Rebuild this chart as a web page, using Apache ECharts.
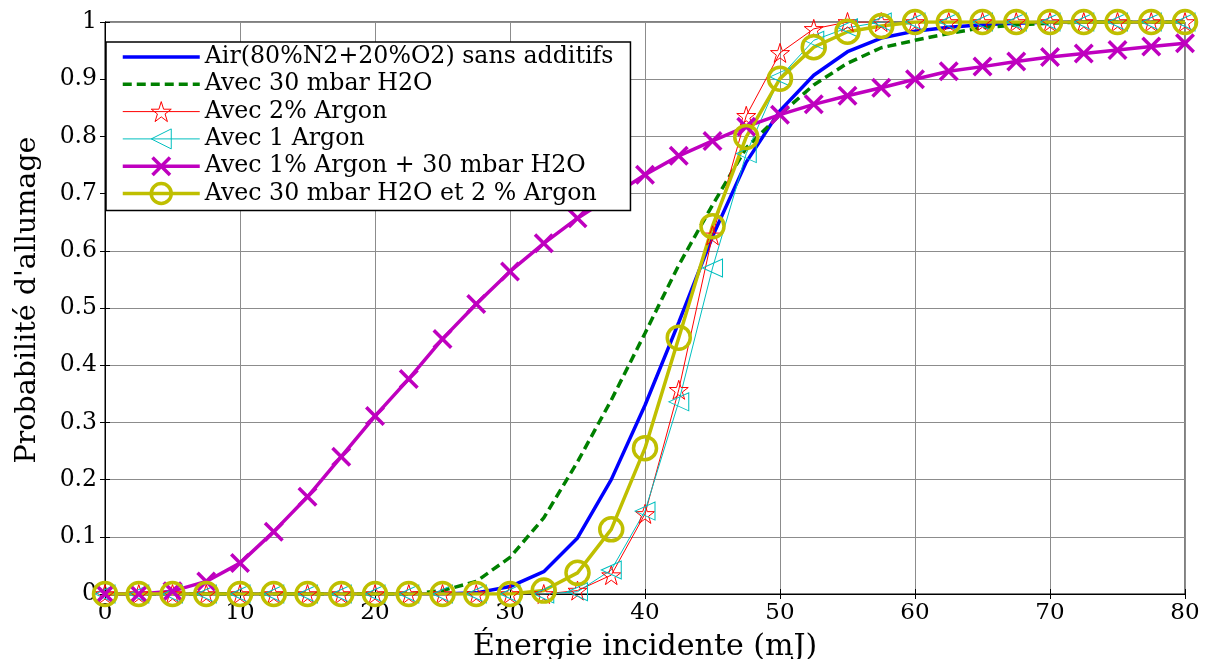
<!DOCTYPE html>
<html>
<head>
<meta charset="utf-8">
<script src="https://cdn.jsdelivr.net/npm/echarts@6/dist/echarts.min.js"></script>
<style>html,body{margin:0;padding:0;background:#fff;}#c{width:1205px;height:659px;}</style>
</head>
<body>
<div id="c"></div>
<script>
const energy = [0,2.5,5,7.5,10,12.5,15,17.5,20,22.5,25,27.5,30,32.5,35,37.5,40,42.5,45,47.5,50,52.5,55,57.5,60,62.5,65,67.5,70,72.5,75,77.5,80];
const air =      [0,0,0,0,0,0,0,0,0,0,0,0.002,0.013,0.039,0.098,0.2,0.33,0.475,0.625,0.755,0.845,0.907,0.948,0.972,0.984,0.991,0.995,0.998,1,1,1,1,1];
const h2o =      [0,0,0,0,0,0,0,0,0,0,0.006,0.022,0.064,0.133,0.231,0.339,0.456,0.575,0.68,0.78,0.838,0.89,0.928,0.955,0.968,0.98,0.99,0.995,0.998,1,1,1,1];
const argon2 =   [0,0,0,0,0,0,0,0,0,0,0,0,0,0,0.006,0.033,0.14,0.357,0.627,0.836,0.946,0.988,1,1,1,1,1,1,1,1,1,1,1];
const argon1 =   [0,0,0,0,0,0,0,0,0,0,0,0,0,0,0.004,0.042,0.145,0.336,0.57,0.77,0.904,0.968,0.99,1,1,1,1,1,1,1,1,1,1];
const argonH2o = [0,0,0.005,0.022,0.054,0.109,0.17,0.24,0.311,0.376,0.446,0.507,0.564,0.613,0.657,0.695,0.733,0.766,0.792,0.817,0.838,0.856,0.871,0.885,0.9,0.914,0.922,0.931,0.939,0.945,0.951,0.957,0.963];
const h2oArgon = [0,0,0,0,0,0,0,0,0,0,0,0,0,0.006,0.037,0.113,0.255,0.448,0.643,0.799,0.901,0.956,0.983,0.993,1,1,1,1,1,1,1,1,1];
const names = ['Air(80%N2+20%O2) sans additifs','Avec 30 mbar H2O','Avec 2% Argon','Avec 1 Argon','Avec 1% Argon + 30 mbar H2O','Avec 30 mbar H2O et 2 % Argon'];
const xTicks = [0,10,20,30,40,50,60,70,80];
const yTicks = [0,0.1,0.2,0.3,0.4,0.5,0.6,0.7,0.8,0.9,1];

const pair = arr => energy.map((x,i)=>[x,arr[i]]);
const FONT = 'DejaVu Serif';
const STAR = 'path://M50,0 L61.8,36.2 L100,36.2 L69.1,58.8 L80.9,95.1 L50,72.7 L19.1,95.1 L30.9,58.8 L0,36.2 L38.2,36.2 Z';
const CROSS = 'path://M0,2.5 L2.5,0 L10,7.5 L17.5,0 L20,2.5 L12.5,10 L20,17.5 L17.5,20 L10,12.5 L2.5,20 L0,17.5 L7.5,10 Z';
const CLEAR = 'rgba(255,255,255,0)';

const chart = echarts.init(document.getElementById('c'), null, {renderer:'canvas'});
const axisCommon = {
  min:0, axisLine:{show:true, lineStyle:{color:'#000', width:1}},
  axisTick:{show:true, inside:true, length:5, lineStyle:{color:'#000'}},
};
chart.setOption({
  animation:false,
  backgroundColor:'#fff',
  grid:{left:105, right:20, top:22, bottom:65, show:true, borderColor:'#000', borderWidth:1,
        containLabel:false, outerBoundsMode:'none'},
  legend:{
    orient:'vertical', left:106, top:42,
    data:names,
    backgroundColor:'#fff', borderColor:'#000', borderWidth:1.5,
    padding:[3,17,5,15], itemGap:3.3, itemWidth:77, itemHeight:25,
    lineStyle:{width:'inherit'},
    itemStyle:{borderWidth:'inherit'},
    textStyle:{fontFamily:FONT, fontSize:23.7, color:'#000'}
  },
  xAxis:[
    Object.assign({}, axisCommon, {type:'value', max:80, interval:10, position:'bottom',
      name:'Énergie incidente (mJ)', nameLocation:'middle', nameGap:38,
      nameTextStyle:{fontFamily:FONT, fontSize:30, color:'#000'},
      axisLabel:{fontFamily:FONT, fontSize:23, color:'#000', margin:8, formatter:v=>xTicks.includes(v)?String(v):''},
      splitLine:{show:true, lineStyle:{color:'#8c8c8c', width:1}}}),
    Object.assign({}, axisCommon, {type:'value', max:80, interval:10, position:'top',
      axisLabel:{show:false}, splitLine:{show:false}})
  ],
  yAxis:[
    Object.assign({}, axisCommon, {type:'value', max:1, interval:0.1, position:'left',
      name:"Probabilité d'allumage", nameLocation:'middle', nameGap:63,
      nameTextStyle:{fontFamily:FONT, fontSize:28.5, color:'#000', padding:[0,0,0,16]},
      axisLabel:{fontFamily:FONT, fontSize:23.5, color:'#000', margin:8,
        formatter:v=>{const t=yTicks.find(k=>Math.abs(k-v)<1e-9); return t===undefined?'':String(t);}},
      splitLine:{show:true, lineStyle:{color:'#8c8c8c', width:1}}}),
    Object.assign({}, axisCommon, {type:'value', max:1, interval:0.1, position:'right',
      axisLabel:{show:false}, splitLine:{show:false}})
  ],
  series:[
    {name:names[0], type:'line', data:pair(air), showSymbol:false, symbol:'circle', symbolSize:0,
      lineStyle:{color:'#0000ff', width:3.5}, itemStyle:{color:CLEAR, borderWidth:0}},
    {name:names[1], type:'line', data:pair(h2o), showSymbol:false, symbol:'circle', symbolSize:0,
      lineStyle:{color:'#008000', width:3.5, type:[9,5]}, itemStyle:{color:CLEAR, borderWidth:0}},
    {name:names[2], type:'line', data:pair(argon2), symbol:STAR, symbolSize:19,
      lineStyle:{color:'#ff0000', width:1}, itemStyle:{color:CLEAR, borderColor:'#ff0000', borderWidth:1}},
    {name:names[3], type:'line', data:pair(argon1), symbol:'triangle', symbolSize:[18,20], symbolRotate:90,
      lineStyle:{color:'#00bfbf', width:1}, itemStyle:{color:CLEAR, borderColor:'#00bfbf', borderWidth:1}},
    {name:names[4], type:'line', data:pair(argonH2o), symbol:CROSS, symbolSize:20,
      lineStyle:{color:'#bf00bf', width:3.5}, itemStyle:{color:'#bf00bf', borderWidth:0}},
    {name:names[5], type:'line', data:pair(h2oArgon), symbol:'circle', symbolSize:23,
      lineStyle:{color:'#bfbf00', width:3.5}, itemStyle:{color:CLEAR, borderColor:'#bfbf00', borderWidth:3.5}}
  ]
});
</script>
</body>
</html>
